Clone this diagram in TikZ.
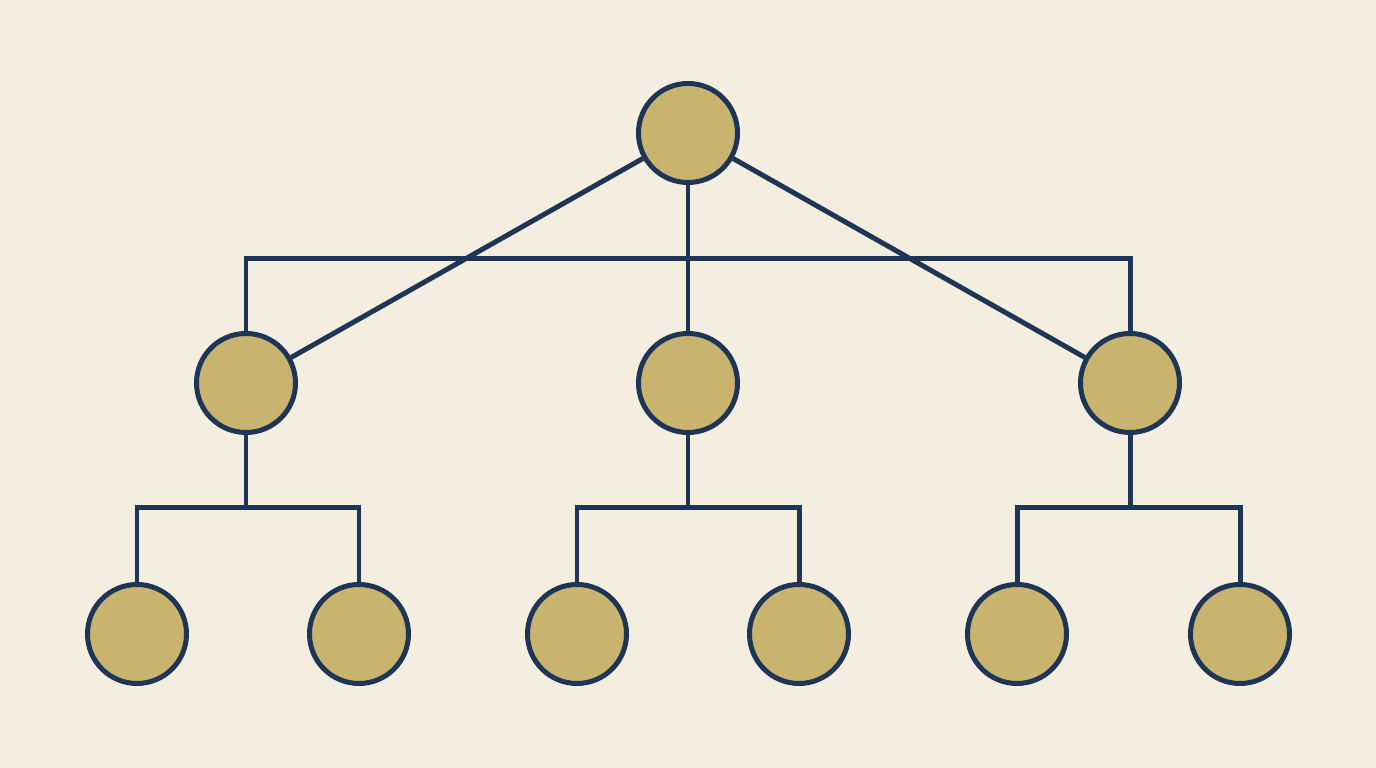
\documentclass[tikz,border=0pt]{standalone}
\usepackage{tikz}

\definecolor{paper}{HTML}{F3EEDF}
\definecolor{ochre}{HTML}{C8B46E}
\definecolor{navy}{HTML}{1F3556}

\begin{document}
\begin{tikzpicture}
            [scale=1,every node/.style={draw=navy,shape=circle,fill=ochre,inner sep=0,minimum size=0.99cm,line width=1.42pt}, every path/.style={line width=1.42pt, navy}]

            \fill[paper] (0, 0) rectangle (13.76, 7.68);
            \useasboundingbox (0, 0) rectangle (13.76, 7.68);

            \node (r) at (6.88, 6.35) {};
            \node (m1) at (2.46, 3.85) {};
            \node (m2) at (6.88, 3.85) {};
            \node (m3) at (11.30, 3.85) {};
            \node (l1) at (1.37, 1.34) {};
            \node (l2) at (3.59, 1.34) {};
            \node (l3) at (5.77, 1.34) {};
            \node (l4) at (7.99, 1.34) {};
            \node (l5) at (10.17, 1.34) {};
            \node (l6) at (12.40, 1.34) {};

            \coordinate (busL) at (2.46, 5.09);
            \coordinate (busR) at (11.30, 5.09);
            \coordinate (j1) at (2.46, 2.60);
            \coordinate (j2) at (6.88, 2.60);
            \coordinate (j3) at (11.30, 2.60);

            \draw (m1) -- (busL) -- (busR) -- (m3);
            \draw (r) -- (m1);
            \draw (r) -- (m2);
            \draw (r) -- (m3);

            \draw (m1) -- (j1);
            \draw (m2) -- (j2);
            \draw (m3) -- (j3);
            \draw (l1) -- (l1 |- j1) -- (l2 |- j1) -- (l2);
            \draw (l3) -- (l3 |- j2) -- (l4 |- j2) -- (l4);
            \draw (l5) -- (l5 |- j3) -- (l6 |- j3) -- (l6);
          \end{tikzpicture}
\end{document}
